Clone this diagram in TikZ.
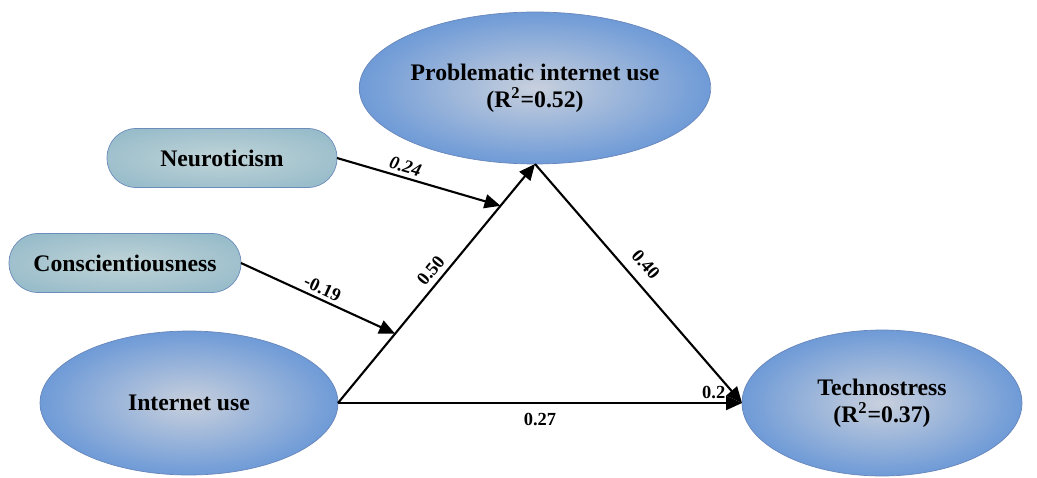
\documentclass[tikz,border=0pt]{standalone}
\usepackage{fontspec}
\setmainfont{Liberation Serif}
\usetikzlibrary{arrows.meta,calc,shapes.geometric}
\definecolor{ovalin}{RGB}{200,208,221}
\definecolor{ovalout}{RGB}{96,146,214}
\definecolor{ovalline}{RGB}{104,134,186}
\definecolor{pillin}{RGB}{192,212,216}
\definecolor{pillout}{RGB}{152,188,202}
\definecolor{pillline}{RGB}{108,140,188}
\pgfdeclareradialshading{ovalshade}{\pgfpoint{0bp}{0bp}}{color(0bp)=(ovalin); color(29bp)=(ovalout); color(50bp)=(ovalout)}
\pgfdeclareradialshading{pillshade}{\pgfpoint{0bp}{0bp}}{color(0bp)=(pillin); color(30bp)=(pillout); color(50bp)=(pillout)}
\tikzset{
  latente/.style={
    ellipse,
    draw=ovalline,
    shading=ovalshade,
    align=center,
    inner sep=0pt,
    outer sep=0pt,
    font=\fontsize{13.5}{15.5}\selectfont\bfseries
  },
  rasgo/.style={
    rounded corners=0.58cm,
    draw=pillline,
    shading=pillshade,
    align=center,
    minimum height=1.18cm,
    inner sep=0pt,
    outer sep=0pt,
    font=\fontsize{13.5}{15.5}\selectfont\bfseries
  },
  arrow/.style={
    -{Triangle[length=3.2mm,width=2.8mm]},
    line width=1.2pt,
    black
  },
  coef/.style={
    inner sep=2pt,
    font=\fontsize{10.5}{12}\selectfont\bfseries
  }
}
\begin{document}
\begin{tikzpicture}[x=0.02cm,y=0.02cm]
\useasboundingbox (0,0) rectangle (1037,477);
\node[latente,minimum width=5.88cm,minimum height=3.04cm] (piu) at (535,389) {Problematic internet use\\(R\textsuperscript{2}=0.52)};
\node[latente,minimum width=5.96cm,minimum height=2.88cm] (iu) at (189,74) {Internet use};
\node[latente,minimum width=5.6cm,minimum height=2.92cm] (tec) at (882,74) {Technostress\\(R\textsuperscript{2}=0.37)};
\node[rasgo,minimum width=4.6cm] (neu) at (222,319) {Neuroticism};
\node[rasgo,minimum width=4.64cm] (con) at (125,214) {Conscientiousness};
% puntos de moderacion sobre la flecha principal
\coordinate (m1) at ($(iu.east)!0.825!(piu.south)$);
\coordinate (m2) at ($(iu.east)!0.29!(piu.south)$);
\draw[arrow] (iu.east) -- node[coef,pos=0.52,above=1pt,sloped]{0.50} (piu.south);
\draw[arrow] (iu.east) -- node[coef,below=3pt]{0.27} node[coef,pos=0.93,above]{0.2} (tec.west);
\draw[arrow] (piu.south) -- node[coef,pos=0.47,above=4pt,sloped]{0.40} (tec.west);
\draw[arrow] (neu.east) -- node[coef,pos=0.4,above,sloped]{\itshape 0.24} (m1);
\draw[arrow] (con.east) -- node[coef,pos=0.5,above,sloped]{-0.19} (m2);
\end{tikzpicture}
\end{document}
